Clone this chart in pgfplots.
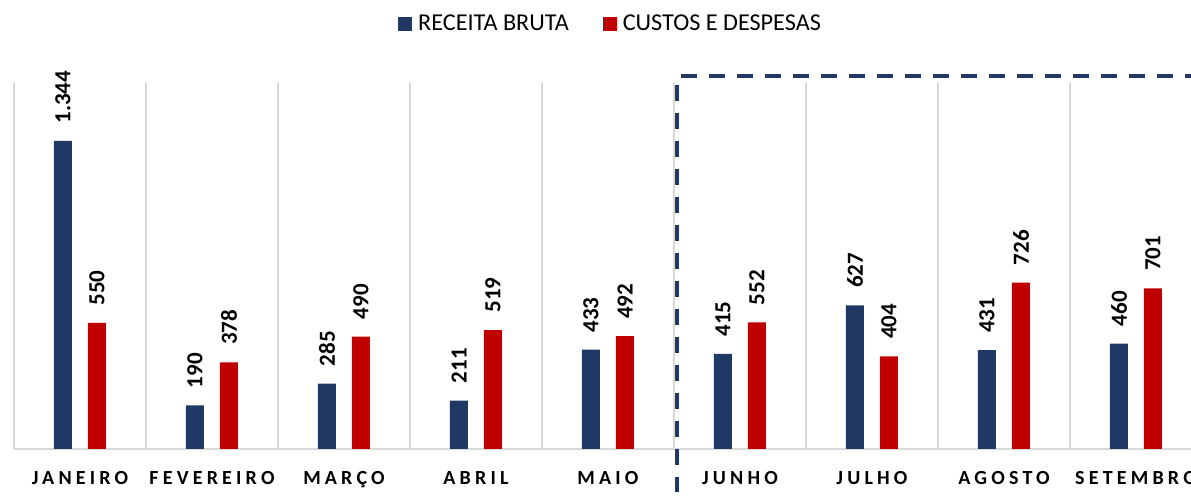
\documentclass[border=0pt]{standalone}
\usepackage{pgfplots}
\pgfplotsset{compat=1.18}
\usepackage{fontspec}
\setmainfont{Carlito}
\newfontfamily\spaced[LetterSpace=21]{Carlito}
\definecolor{cblue}{RGB}{31,56,100}
\definecolor{cred}{RGB}{192,0,0}
\definecolor{cgrid}{RGB}{217,217,217}
\begin{document}
\begin{tikzpicture}
\begin{axis}[
  at={(0pt,0pt)}, anchor=south west,
  scale only axis,
  width=594pt, height=183.5pt,
  xmin=-0.5, xmax=8.5, ymin=0, ymax=1601,
  ybar=8pt, bar width=9pt,
  axis x line*=bottom,
  axis y line=none,
  x axis line style={draw=cgrid, line width=0.6pt, -},
  xtick={0,...,8},
  xticklabels={JANEIRO,FEVEREIRO,MARÇO,ABRIL,MAIO,JUNHO,JULHO,AGOSTO,SETEMBRO},
  xticklabel style={font=\spaced\bfseries\fontsize{10}{11}\selectfont, yshift=-7.8pt},
  major tick length=0pt,
  minor xtick={-0.5,0.5,...,8.5},
  minor tick length=0pt,
  xminorgrids=true,
  minor grid style={draw=cgrid, line width=0.6pt},
  /pgf/number format/assume math mode=true,
  /pgf/number format/.cd, 1000 sep={.}, fixed, precision=0, /pgfplots/.cd,
  nodes near coords,
  every node near coord/.append style={rotate=90, anchor=west, inner xsep=8.5pt, inner ysep=0pt, text=black, font=\bfseries\fontsize{11.5}{13}\selectfont},
  legend style={at={(0.503,1.158)}, anchor=center, draw=none, fill=none, legend columns=2,
    font=\fontsize{12.1}{13}\selectfont,
    /tikz/every odd column/.append style={column sep=1pt},
    /tikz/every even column/.append style={column sep=15pt}},
  legend image code/.code={\fill[#1] (0pt,-3.5pt) rectangle (7pt,3.5pt);},
  clip=false,
]
\addplot[fill=cblue, draw=none] coordinates {(0,1344) (1,190) (2,285) (3,211) (4,433) (5,415) (6,627) (7,431) (8,460)};
\addlegendentry{RECEITA BRUTA}
\addplot[fill=cred, draw=none] coordinates {(0,550) (1,378) (2,490) (3,519) (4,492) (5,552) (6,404) (7,726) (8,701)};
\addlegendentry{CUSTOS E DESPESAS}
\end{axis}
\draw[cblue, line width=2pt, dash pattern=on 8pt off 6pt] (333.5pt,186.5pt) -- (600pt,186.5pt);
\draw[cblue, line width=2pt, dash pattern=on 8pt off 6pt] (331.5pt,182pt) -- (331.5pt,-21.5pt);
\pgfresetboundingbox
\clip (-7pt,-23.5pt) rectangle (588.5pt,224.5pt);
\useasboundingbox (-7pt,-23.5pt) rectangle (588.5pt,224.5pt);
\end{tikzpicture}
\end{document}
